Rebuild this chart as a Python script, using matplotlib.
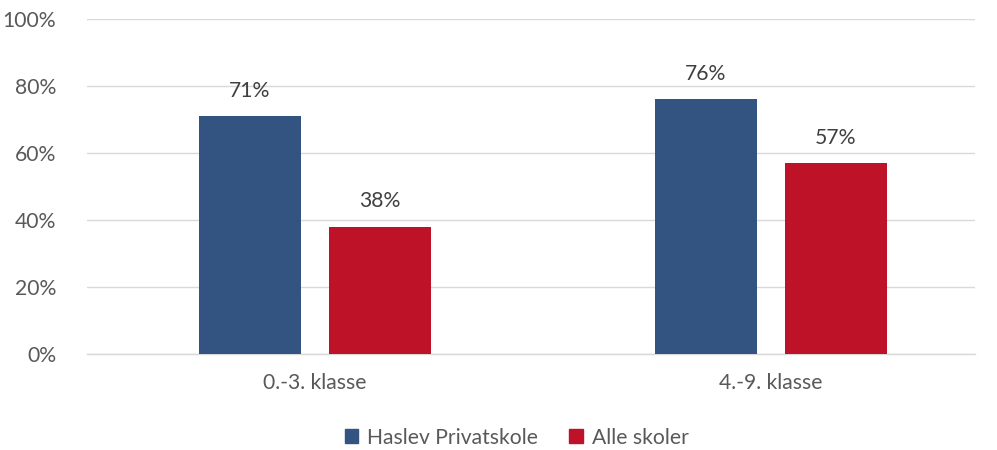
import matplotlib.pyplot as plt
from matplotlib.patches import Patch
import numpy as np

# data
categories = ["0.-3. klasse", "4.-9. klasse"]
haslev = [71, 76]
alle = [38, 57]
series_names = ["Haslev Privatskole", "Alle skoler"]
colors = ["#335380", "#BE1229"]
text_color = "#595959"

plt.rcParams['font.family'] = ['Lato', 'DejaVu Sans']
fs = 15.2

fig = plt.figure(figsize=(9.97, 4.5), dpi=100)
ax = fig.add_axes([0.087, 0.2133, 0.891, 0.7447])

x = np.arange(len(categories))
w = 0.224
off = 0.1425
b1 = ax.bar(x - off, haslev, w, color=colors[0], zorder=3)
b2 = ax.bar(x + off, alle, w, color=colors[1], zorder=3)

for bars, vals in ((b1, haslev), (b2, alle)):
    for b, v in zip(bars, vals):
        ax.annotate(f"{v}%", (b.get_x() + b.get_width() / 2, v),
                    xytext=(0, 11), textcoords="offset points",
                    ha="center", va="bottom", fontsize=fs, color="#404040")

ax.set_ylim(0, 100)
ax.set_xlim(-0.5, 1.448)
ax.set_yticks(range(0, 101, 20))
ax.set_yticklabels([f"{t}%" for t in range(0, 101, 20)])
ax.set_xticks(x)
ax.set_xticklabels(categories)
ax.tick_params(axis="both", length=0, labelsize=fs, colors=text_color)
ax.tick_params(axis="y", pad=22)
ax.tick_params(axis="x", pad=14)
ax.grid(axis="y", color="#d9d9d9", linewidth=1, zorder=0)
for s in ["top", "right", "left"]:
    ax.spines[s].set_visible(False)
ax.spines["bottom"].set_color("#d9d9d9")
ax.spines["bottom"].set_linewidth(1)

handles = [Patch(color=c, label=n) for c, n in zip(colors, series_names)]
leg = fig.legend(handles=handles, loc="center", bbox_to_anchor=(0.518, 0.027),
                 ncol=2, frameon=False, fontsize=fs, handlelength=0.65,
                 handleheight=0.65, handletextpad=0.4, columnspacing=1.5)
for t in leg.get_texts():
    t.set_color(text_color)

fig.savefig("out.png", dpi=100)
